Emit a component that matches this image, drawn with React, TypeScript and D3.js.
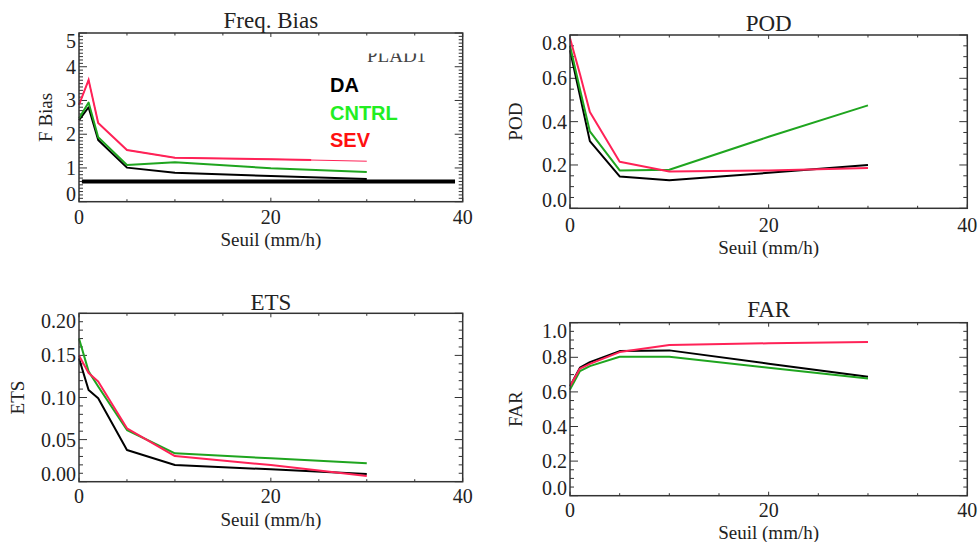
import React from "react";
import * as d3 from "d3";

// ---------- DATA ----------
const thresholds = [0, 1, 2, 5, 10, 20, 30];
const seriesNames = ["DA", "CNTRL", "SEV"];

const fbiasDA = [2.42, 2.8, 1.83, 1.01, 0.86, 0.76, 0.67];
const fbiasCNTRL = [2.47, 2.94, 1.91, 1.09, 1.17, 0.99, 0.88];
const fbiasSEV = [2.87, 3.61, 2.33, 1.53, 1.3, 1.26, 1.2];
const fbiasRefLine = { x0: 0.3, x1: 39.2, y: 0.6 };

const podDA = [0.73, 0.52, 0.31, 0.147, 0.129, 0.164, 0.2];
const podCNTRL = [0.75, 0.55, 0.355, 0.175, 0.178, 0.33, 0.475];
const podSEV = [0.785, 0.62, 0.445, 0.215, 0.17, 0.175, 0.186];

const etsDA = [0.1465, 0.109, 0.099, 0.0376, 0.0198, 0.0147, 0.0091];
const etsCNTRL = [0.17, 0.131, 0.113, 0.0614, 0.0337, 0.0278, 0.0218];
const etsSEV = [0.15, 0.129, 0.119, 0.0634, 0.0305, 0.0198, 0.0068];

const farDA = [0.633, 0.74, 0.772, 0.836, 0.84, 0.763, 0.687];
const farCNTRL = [0.613, 0.72, 0.749, 0.803, 0.803, 0.739, 0.677];
const farSEV = [0.633, 0.735, 0.762, 0.83, 0.871, 0.881, 0.888];

const xTicks = [0, 20, 40];
const xMinorStep = 5;
const fbiasTicks = [0, 1, 2, 3, 4, 5];
const podTicks = [0, 0.2, 0.4, 0.6, 0.8];
const etsTicks = [0, 0.05, 0.1, 0.15, 0.2];
const farTicks = [0, 0.2, 0.4, 0.6, 0.8, 1.0];

// ---------- STYLE ----------
const lineColors = ["#000000", "#1fa51f", "#ff2257"];
const legendColors = ["#000000", "#22ee22", "#ff1010"];
const SERIF = "'Liberation Serif', 'Times New Roman', serif";
const SANS = "'Liberation Sans', Arial, sans-serif";
const AXIS = "#333";
const TXT = "#222";

type PanelProps = {
  box: { x0: number; x1: number; y0: number; y1: number };
  yDomain: [number, number];
  yTicks: number[];
  yMinor: number;
  yFmt: (v: number) => string;
  title: string;
  titleY: number;
  yLabel: string;
  yLabelX: number;
  xLabelY: number;
  xTickY: number;
  series: number[][];
  children?: (x: d3.ScaleLinear<number, number>, y: d3.ScaleLinear<number, number>) => React.ReactNode;
  thinRedFrom?: number;
  id: string;
};

function Panel(p: PanelProps) {
  const { box } = p;
  const x = d3.scaleLinear().domain([0, 40]).range([box.x0, box.x1]);
  const y = d3.scaleLinear().domain(p.yDomain).range([box.y1, box.y0]);
  const line = d3
    .line<number>()
    .x((_, i) => x(thresholds[i]))
    .y((d) => y(d));

  const xMinor = d3.range(0, 40 + 1e-9, xMinorStep);
  const nMinor = Math.round((p.yDomain[1] - p.yDomain[0]) / p.yMinor);
  const yMinor = d3.range(0, nMinor + 1).map((i) => p.yDomain[0] + i * p.yMinor);
  const cx = (box.x0 + box.x1) / 2;
  const cy = (box.y0 + box.y1) / 2;

  return (
    <g>
      {xMinor.map((v, i) => (
        <g key={"xm" + i} stroke={AXIS} strokeWidth={1}>
          <line x1={x(v)} x2={x(v)} y1={box.y1} y2={box.y1 - (xTicks.includes(v) ? 4 : 2.5)} />
          <line x1={x(v)} x2={x(v)} y1={box.y0} y2={box.y0 + (xTicks.includes(v) ? 4 : 2.5)} />
        </g>
      ))}
      {yMinor.map((v, i) => {
        const major = p.yTicks.some((t) => Math.abs(t - v) < 1e-9);
        const L = major ? 8 : 4;
        return (
          <g key={"ym" + i} stroke={AXIS} strokeWidth={1}>
            <line x1={box.x0} x2={box.x0 + L} y1={y(v)} y2={y(v)} />
            <line x1={box.x1} x2={box.x1 - L} y1={y(v)} y2={y(v)} />
          </g>
        );
      })}
      <clipPath id={p.id + "clip"}>
        <rect
          x={box.x0 - 2}
          y={box.y0 - 10}
          width={(p.thinRedFrom !== undefined ? x(p.thinRedFrom) : box.x1) - box.x0 + 2}
          height={box.y1 - box.y0 + 20}
        />
      </clipPath>
      {p.series.map((s, i) => {
        if (i === 2 && p.thinRedFrom !== undefined) {
          return (
            <g key={"s" + i}>
              <path d={line(s) || ""} fill="none" stroke={lineColors[i]} strokeWidth={1} />
              <path
                d={line(s) || ""}
                fill="none"
                stroke={lineColors[i]}
                strokeWidth={2}
                clipPath={`url(#${p.id}clip)`}
              />
            </g>
          );
        }
        return (
          <path
            key={"s" + i}
            d={line(s) || ""}
            fill="none"
            stroke={lineColors[i]}
            strokeWidth={2}
            strokeLinejoin="round"
          />
        );
      })}
      {p.children && p.children(x, y)}
      <rect
        x={box.x0}
        y={box.y0}
        width={box.x1 - box.x0}
        height={box.y1 - box.y0}
        fill="none"
        stroke={AXIS}
        strokeWidth={1.5}
      />
      {p.yTicks.map((v, i) => {
        let yy = y(v);
        if (v === p.yDomain[0]) yy -= 8;
        if (v === p.yDomain[1]) yy += 8;
        return (
          <text
            key={"yl" + i}
            x={box.x0 - 3}
            y={yy}
            dy="0.35em"
            textAnchor="end"
            fontFamily={SERIF}
            fontSize={20}
            fill={TXT}
          >
            {p.yFmt(v)}
          </text>
        );
      })}
      {xTicks.map((v, i) => (
        <text
          key={"xl" + i}
          x={x(v)}
          y={p.xTickY}
          dy="0.35em"
          textAnchor="middle"
          fontFamily={SERIF}
          fontSize={20}
          fill={TXT}
        >
          {v}
        </text>
      ))}
      <text x={cx} y={p.xLabelY} dy="0.35em" textAnchor="middle" fontFamily={SERIF} fontSize={19} fill={TXT}>
        Seuil (mm/h)
      </text>
      <text
        transform={`translate(${p.yLabelX},${cy}) rotate(-90)`}
        dy="0.35em"
        textAnchor="middle"
        fontFamily={SERIF}
        fontSize={19}
        fill={TXT}
      >
        {p.yLabel}
      </text>
      <text x={cx} y={p.titleY} dy="0.35em" textAnchor="middle" fontFamily={SERIF} fontSize={23} fill={TXT}>
        {p.title}
      </text>
    </g>
  );
}

export default function App() {
  const fmt1 = (v: number) => d3.format(".1f")(v);
  const fmt2 = (v: number) => d3.format(".2f")(v);
  const fmt0 = (v: number) => d3.format("d")(v);
  return (
    <svg
      width={978}
      height={542}
      viewBox="0 0 978 542"
      style={{ position: "absolute", left: 0, top: 0, background: "#fff" }}
    >
      <rect width={978} height={542} fill="#fff" />
      <Panel
        id="fb"
        box={{ x0: 79, x1: 462.7, y0: 33, y1: 201.7 }}
        yDomain={[0, 5]}
        yTicks={fbiasTicks}
        yMinor={0.1}
        yFmt={fmt0}
        title="Freq. Bias"
        titleY={20}
        yLabel="F Bias"
        yLabelX={45}
        xLabelY={239}
        xTickY={217}
        series={[fbiasDA, fbiasCNTRL, fbiasSEV]}
        thinRedFrom={24.2}
      >
        {(x, y) => (
          <g>
            <line
              x1={x(fbiasRefLine.x0)}
              x2={x(fbiasRefLine.x1)}
              y1={y(fbiasRefLine.y)}
              y2={y(fbiasRefLine.y)}
              stroke="#000"
              strokeWidth={4}
            />
            <clipPath id="pladclip">
              <rect x={360} y={53.5} width={80} height={20} />
            </clipPath>
            <text
              x={367}
              y={61.7}
              fontFamily={SERIF}
              fontSize={19}
              fill="#444"
              clipPath="url(#pladclip)"
            >
              PLAD1
            </text>
            {seriesNames.map((n, i) => (
              <text
                key={n}
                x={330}
                y={92.3 + i * 27.5}
                fontFamily={SANS}
                fontWeight="bold"
                fontSize={20}
                fill={legendColors[i]}
              >
                {n}
              </text>
            ))}
          </g>
        )}
      </Panel>
      <Panel
        id="pod"
        box={{ x0: 570, x1: 967.3, y0: 35, y1: 208.3 }}
        yDomain={[0, 0.8]}
        yTicks={podTicks}
        yMinor={0.05}
        yFmt={fmt1}
        title="POD"
        titleY={23.3}
        yLabel="POD"
        yLabelX={515}
        xLabelY={247}
        xTickY={224.5}
        series={[podDA, podCNTRL, podSEV]}
      />
      <Panel
        id="ets"
        box={{ x0: 79, x1: 462.7, y0: 313.3, y1: 481.7 }}
        yDomain={[0, 0.2]}
        yTicks={etsTicks}
        yMinor={0.01}
        yFmt={fmt2}
        title="ETS"
        titleY={301.7}
        yLabel="ETS"
        yLabelX={17}
        xLabelY={519}
        xTickY={495.5}
        series={[etsDA, etsCNTRL, etsSEV]}
      />
      <Panel
        id="far"
        box={{ x0: 570, x1: 967.3, y0: 322.7, y1: 495.7 }}
        yDomain={[0, 1]}
        yTicks={farTicks}
        yMinor={0.05}
        yFmt={fmt1}
        title="FAR"
        titleY={309.3}
        yLabel="FAR"
        yLabelX={515}
        xLabelY={532}
        xTickY={509.5}
        series={[farDA, farCNTRL, farSEV]}
      />
    </svg>
  );
}
